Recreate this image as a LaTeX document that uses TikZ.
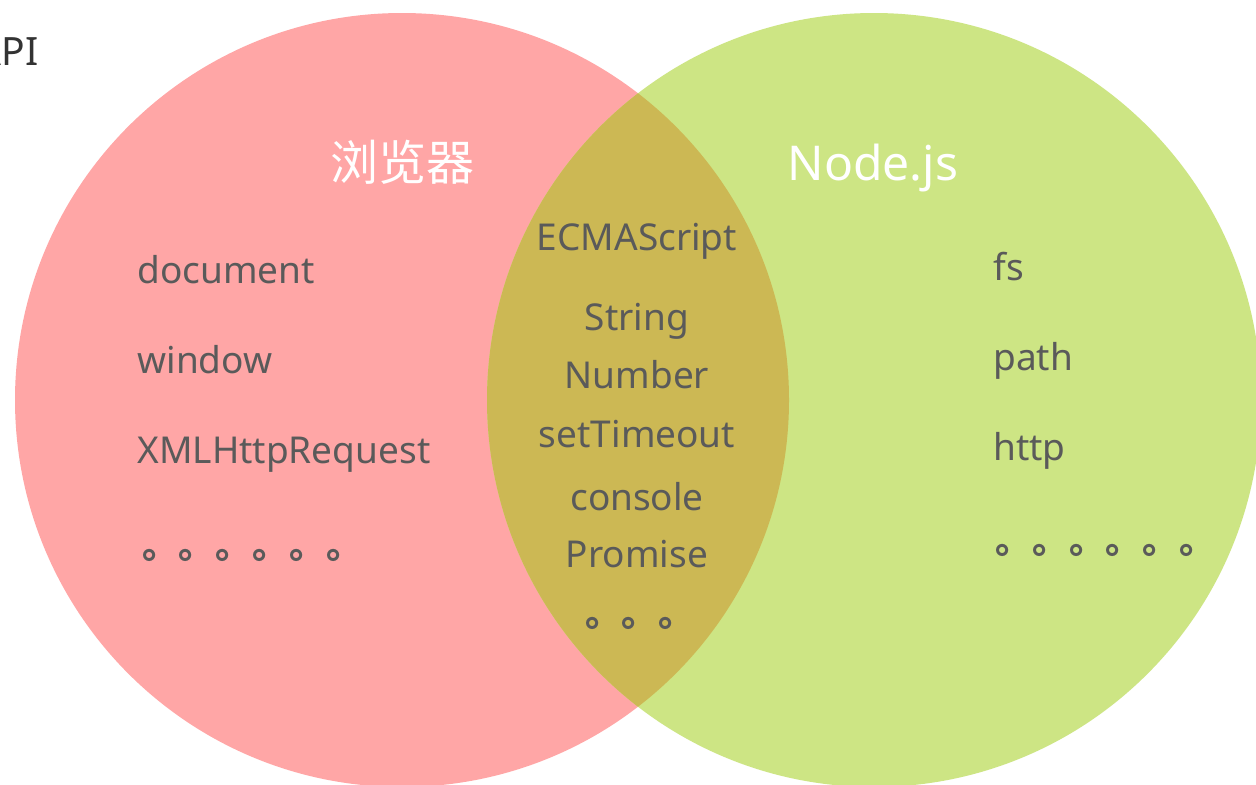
\documentclass[tikz,border=0pt]{standalone}
\usepackage{fontspec}
\setmainfont{Noto Sans}
\newfontfamily\cjkfont{Noto Sans CJK SC}
\usepackage{xcolor}
\usepackage{tikz}

\definecolor{browserpink}{HTML}{FFA6A6}
\definecolor{nodegreen}{HTML}{CDE584}
\definecolor{sharedolive}{HTML}{CCB854}
\definecolor{itemgray}{HTML}{5A5A5A}
\definecolor{apigray}{HTML}{333333}

\begin{document}
\begin{tikzpicture}[
        x=0.5pt, y=-0.5pt,
        item/.style={text=itemgray, font=\fontsize{18.5}{22}\selectfont, inner sep=0pt, anchor=base west},
        shared/.style={item, anchor=base},
        title/.style={text=white, font=\fontsize{24}{28}\selectfont, inner sep=0pt, anchor=base},
        dots/.style={item, font=\cjkfont\bfseries\fontsize{18.4}{22}\selectfont}
    ]
            \clip (0,0) rectangle (1256,784);
            \fill[white] (0,0) rectangle (1256,784);

            % Circles and their overlap
            \fill[browserpink] (402,400) circle (387);
            \fill[nodegreen] (874,400) circle (387);
            \begin{scope}
                \clip (402,400) circle (387);
                \fill[sharedolive] (874,400) circle (387);
            \end{scope}

            \node[item, anchor=base east, text=apigray, font=\fontsize{19.5}{22}\selectfont] (api) at (39,65) {API};
            \node[title] (browser) at (402,180) {\cjkfont 浏览器};
            \node[title] (nodejs) at (873,180) {Node.js};

            % Browser only
            \node[item] (doc) at (137,283) {document};
            \node[item] (win) at (137,373) {window};
            \node[item] (xhr) at (137,463) {XMLHttpRequest};
            \node[dots] (bdots) at (141.6,558) {。。。。。。};

            % Node.js only
            \node[item] (fs) at (993,280) {fs};
            \node[item] (path) at (993,370) {path};
            \node[item] (http) at (993,460) {http};
            \node[dots] (ndots) at (995,553) {。。。。。。};

            % Both
            \node[shared] (ecma) at (637,250) {ECMAScript};
            \node[shared] (str) at (637,330) {String};
            \node[shared] (num) at (637,388) {Number};
            \node[shared] (timer) at (637,447) {setTimeout};
            \node[shared] (console) at (637,510) {console};
            \node[shared] (promise) at (637,567) {Promise};
            \node[dots] (cdots) at (584.6,626) {。。。};
    \end{tikzpicture}
\end{document}
